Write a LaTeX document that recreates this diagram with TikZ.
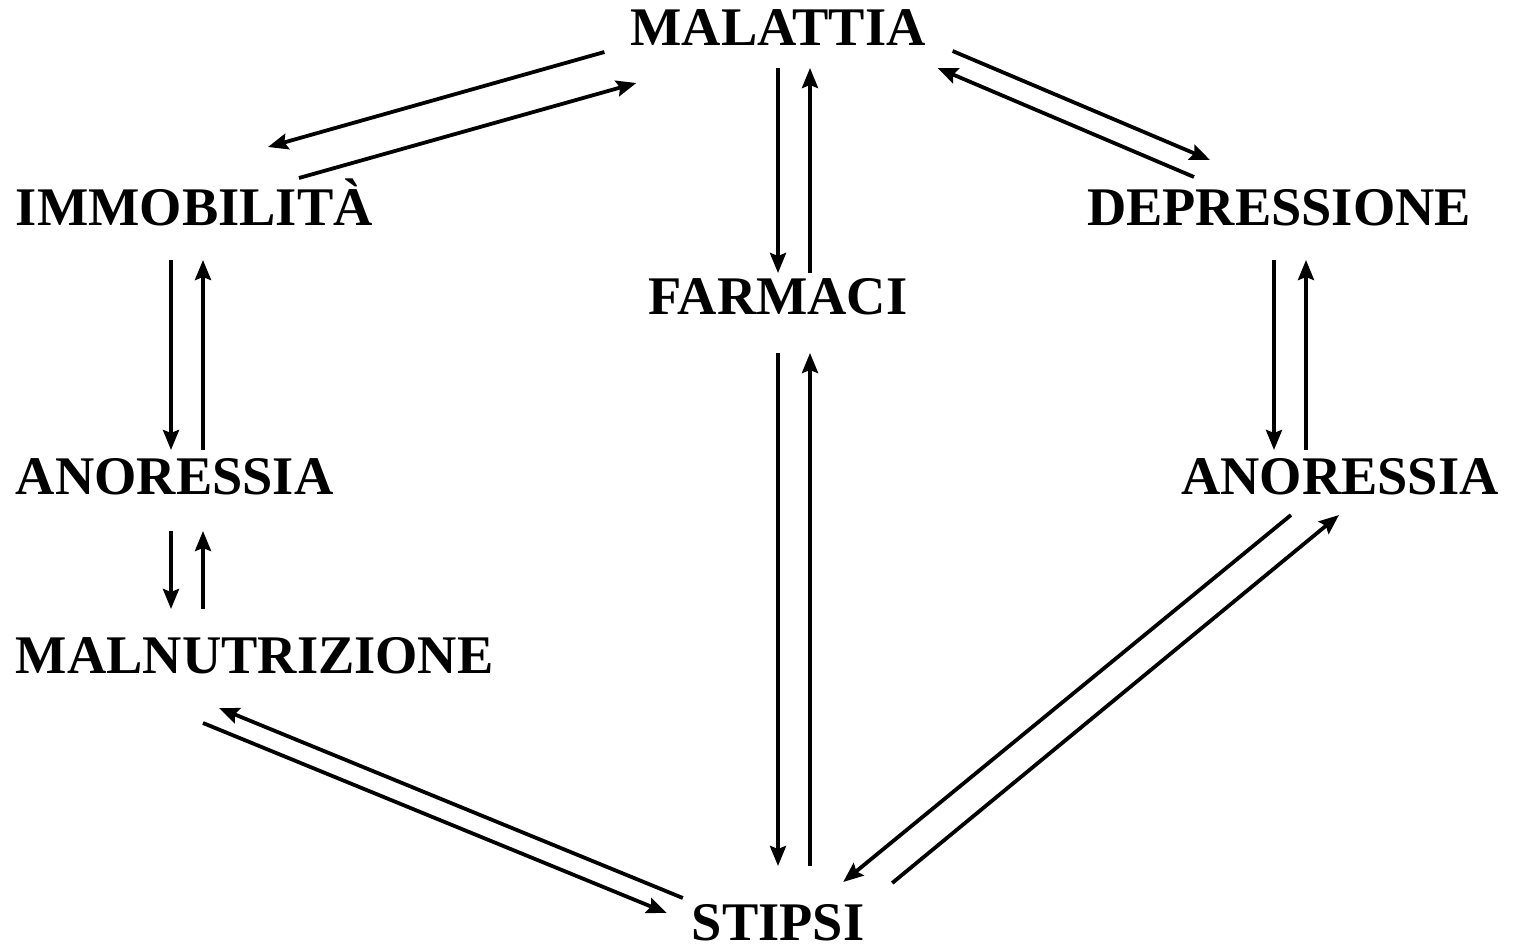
\documentclass[tikz,border=0pt]{standalone}
\usepackage{fontspec}
\setmainfont{Liberation Serif}
\usepackage{tikz}
\usetikzlibrary{positioning}
\usetikzlibrary{calc}
\usetikzlibrary{arrows.meta}

\begin{document}
\begin{tikzpicture}[x=0.5pt, y=-0.5pt,
    voce/.style={inner sep=0pt, outer sep=0pt, text height=18pt, text depth=0pt,
        font=\fontsize{27.2pt}{30pt}\selectfont\bfseries},
    freccia/.style={line width=1.9pt, -{Stealth[length=10pt, width=8pt, inset=1.5pt]}}]
            \useasboundingbox (0,0) rectangle (1514,947);

            \node[voce, anchor=base] (mal) at (778,46) {MALATTIA};
            \node[voce, anchor=base west] (imm) at (16,225) {IMMOBILITÀ};
            \node[voce, anchor=base] (dep) at (1279,225) {DEPRESSIONE};
            \node[voce, anchor=base] (far) at (778,314) {FARMACI};
            \node[voce, anchor=base west] (anoL) at (16,494) {ANORESSIA};
            \node[voce, anchor=base] (anoR) at (1340,494) {ANORESSIA};
            \node[voce, anchor=base west] (maln) at (16,673) {MALNUTRIZIONE};
            \node[voce, anchor=base] (sti) at (778,940) {STIPSI};

            % in alto
            \draw[freccia] ($(mal.south west)+(-26,6)$) -- ($(imm.north west)+(252,-42)$);
            \draw[freccia] ($(imm.north west)+(283,-11)$) -- ($(mal.south west)+(6,37)$);
            \draw[freccia] ($(mal.south east)+(27,5)$) -- ($(dep.north)+(-69,-29)$);
            \draw[freccia] ($(dep.north)+(-85,-12)$) -- ($(mal.south east)+(12,22)$);
            \draw[freccia] ($(mal.south)+(0,22)$) -- ($(far.north)+(0,-5)$);
            \draw[freccia] ($(far.north)+(32,-5)$) -- ($(mal.south)+(32,22)$);

            % colonna sinistra
            \draw[freccia] ($(imm.south west)+(155,35)$) -- ($(anoL.north west)+(155,-8)$);
            \draw[freccia] ($(anoL.north west)+(187,-8)$) -- ($(imm.south west)+(187,35)$);
            \draw[freccia] ($(anoL.south west)+(155,37)$) -- ($(maln.north west)+(155,-28)$);
            \draw[freccia] ($(maln.north west)+(187,-28)$) -- ($(anoL.south west)+(187,37)$);

            % colonna destra
            \draw[freccia] ($(dep.south)+(-5,35)$) -- ($(anoR.north)+(-66,-8)$);
            \draw[freccia] ($(anoR.north)+(-34,-8)$) -- ($(dep.south)+(27,35)$);

            % centro
            \draw[freccia] ($(far.south)+(0,39)$) -- ($(sti.north)+(0,-38)$);
            \draw[freccia] ($(sti.north)+(32,-38)$) -- ($(far.south)+(32,39)$);

            % in basso
            \draw[freccia] ($(maln.south west)+(187,50)$) -- ($(sti.south west)+(-25,-27)$);
            \draw[freccia] ($(sti.south west)+(-9,-42)$) -- ($(maln.south west)+(203,35)$);
            \draw[freccia] ($(anoR.south)+(-49,21)$) -- ($(sti.south east)+(-21,-58)$);
            \draw[freccia] ($(sti.south east)+(28,-57)$) -- ($(anoR.south)+(-1,21)$);
        \end{tikzpicture}
\end{document}
